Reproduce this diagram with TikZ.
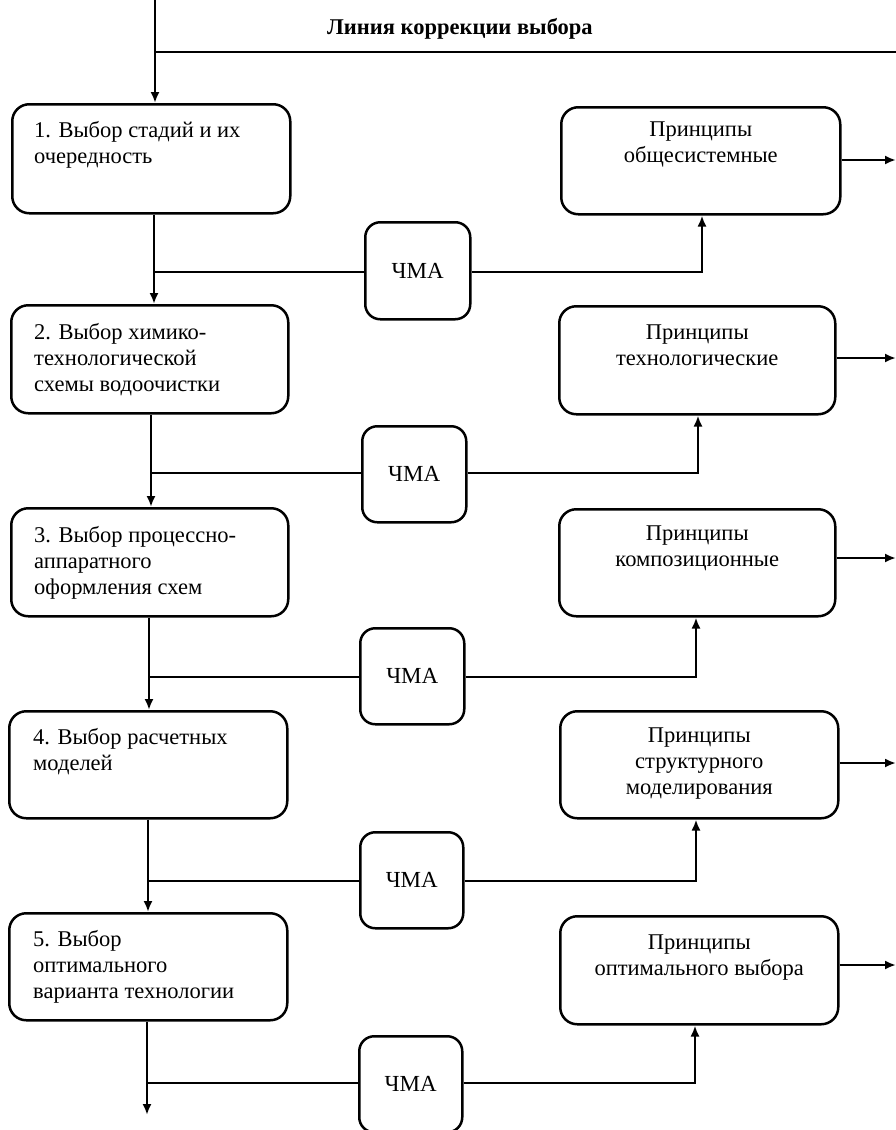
\documentclass[tikz,border=0pt]{standalone}
\usepackage{fontspec}
\setmainfont{Liberation Serif}
\usetikzlibrary{arrows.meta,calc}
\begin{document}
\begin{tikzpicture}[x=1pt,y=-1pt,
  box/.style={draw,line width=2.5pt,rounded corners=17pt,inner sep=0pt,anchor=north west},
  ltext/.style={anchor=north west,inner sep=0pt,align=left,font=\fontsize{22.5}{26}\selectfont},
  rtext/.style={anchor=north,inner sep=0pt,align=center,font=\fontsize{22.5}{26}\selectfont},
  chma/.style={draw,line width=2.5pt,rounded corners=15pt,inner sep=0pt,anchor=north west,font=\fontsize{23}{26}\selectfont},
  con/.style={line width=2.5pt},
  arr/.style={line width=2.5pt,-{Latex[length=11pt,width=9pt]}}]
\useasboundingbox (0,0) rectangle (896,1130);
% top correction line
\coordinate (top) at (155,0);
\coordinate (tj) at (155,52);
\coordinate (tr) at (896,52);
\node[font=\bfseries\fontsize{22.5}{26}\selectfont,inner sep=0pt] (lbl) at (460,29) {Линия коррекции выбора};
% left boxes
\node[box,minimum width=278pt,minimum height=109pt] (L1) at (11,103) {};
\node[box,minimum width=277pt,minimum height=108pt] (L2) at (10,304) {};
\node[box,minimum width=277pt,minimum height=108pt] (L3) at (10,507) {};
\node[box,minimum width=278pt,minimum height=107pt] (L4) at (8,710) {};
\node[box,minimum width=278pt,minimum height=107pt] (L5) at (8,912) {};
% right boxes
\node[box,minimum width=279pt,minimum height=107pt] (R1) at (560,106) {};
\node[box,minimum width=276pt,minimum height=108pt] (R2) at (558,305) {};
\node[box,minimum width=276pt,minimum height=107pt] (R3) at (558,508) {};
\node[box,minimum width=278pt,minimum height=107pt] (R4) at (559,710) {};
\node[box,minimum width=278pt,minimum height=108pt] (R5) at (559,915) {};
% texts left
\node[ltext] (t1) at ($(L1.north west)+(23,16)$) {\strut 1. Выбор стадий и их\\очередность};
\node[ltext] (t2) at ($(L2.north west)+(24,17)$) {\strut 2. Выбор химико-\\технологической\\схемы водоочистки};
\node[ltext] (t3) at ($(L3.north west)+(24,17)$) {\strut 3. Выбор процессно-\\аппаратного\\оформления схем};
\node[ltext] (t4) at ($(L4.north west)+(25,16)$) {\strut 4. Выбор расчетных\\моделей};
\node[ltext] (t5) at ($(L5.north west)+(25,16)$) {\strut 5. Выбор\\оптимального\\варианта технологии};
% texts right
\node[rtext] (u1) at ($(R1.north)+(0,12)$) {\strut Принципы\\общесистемные};
\node[rtext] (u2) at ($(R2.north)+(0,16)$) {\strut Принципы\\технологические};
\node[rtext] (u3) at ($(R3.north)+(0,14)$) {\strut Принципы\\композиционные};
\node[rtext] (u4) at ($(R4.north)+(0,14)$) {\strut Принципы\\структурного\\моделирования};
\node[rtext] (u5) at ($(R5.north)+(0,16)$) {\strut Принципы\\оптимального выбора};
% ЧМА boxes
\node[chma,minimum width=105pt,minimum height=97pt] (C1) at (364,221) {ЧМА};
\node[chma,minimum width=104pt,minimum height=96pt] (C2) at (361,425) {ЧМА};
\node[chma,minimum width=104pt,minimum height=96pt] (C3) at (359,627) {ЧМА};
\node[chma,minimum width=103pt,minimum height=96pt] (C4) at (359,831) {ЧМА};
\node[chma,minimum width=103pt,minimum height=96pt] (C5) at (358,1035) {ЧМА};
% junction coordinates
\coordinate (j1) at (154,272); \coordinate (k1) at (702,272);
\coordinate (j2) at (151,473); \coordinate (k2) at (698,473);
\coordinate (j3) at (149,677); \coordinate (k3) at (696,677);
\coordinate (j4) at (148,881); \coordinate (k4) at (696,881);
\coordinate (j5) at (147,1083); \coordinate (k5) at (695,1083);
\coordinate (bot) at (147,1115);
% right edge outputs
\coordinate (o1) at (896,160);
\coordinate (o2) at (896,358);
\coordinate (o3) at (896,558);
\coordinate (o4) at (896,763);
\coordinate (o5) at (896,965);
% connectors
\draw[arr] (top) -- (top |- L1.north);
\draw[con] (tj) -- (tr);
\draw[arr] (j1 |- L1.south) -- (j1 |- L2.north);
\draw[arr] (j2 |- L2.south) -- (j2 |- L3.north);
\draw[arr] (j3 |- L3.south) -- (j3 |- L4.north);
\draw[arr] (j4 |- L4.south) -- (j4 |- L5.north);
\draw[arr] (j5 |- L5.south) -- (bot);
\foreach \i in {1,...,5}{
  \draw[con] (j\i) -- (C\i.west |- j\i);
  \draw[arr] (C\i.east |- k\i) -- (k\i) -- (k\i |- R\i.south);
  \draw[arr] (R\i.east |- o\i) -- (o\i);
}
\end{tikzpicture}
\end{document}
